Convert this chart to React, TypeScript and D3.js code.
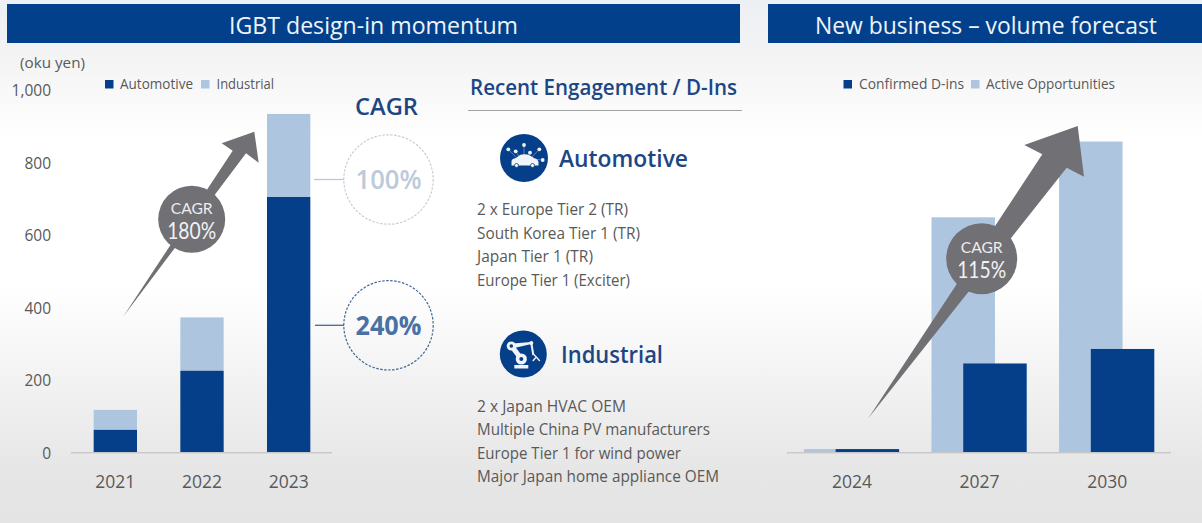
import React from "react";
import * as d3 from "d3";

const designYears = ["2021", "2022", "2023"];
const automotive = [63, 226, 705];
const industrial = [55, 147, 229];
const yTicks = [0, 200, 400, 600, 800, 1000];

const forecastYears = ["2024", "2027", "2030"];
const confirmedDins = [10, 246, 286];
const activeOpps = [10, 649, 858];

const automotiveList = ["2 x Europe Tier 2 (TR)", "South Korea Tier 1 (TR)", "Japan Tier 1 (TR)", "Europe Tier 1 (Exciter)"];
const automotiveWidths = [151, 163, 116, 153];
const industrialList = ["2 x Japan HVAC OEM", "Multiple China PV manufacturers", "Europe Tier 1 for wind power", "Major Japan home appliance OEM"];
const industrialWidths = [149, 233, 204, 242];

const DARK = "#063f89";
const LIGHT = "#aec5e0";
const GREY = "#717075";
const TEXT = "#595959";
const NAVY = "#1c4684";
const FONT = "'Open Sans', 'Noto Sans', sans-serif";

const y = d3.scaleLinear().domain([0, 1000]).range([452.7, 90]);
const xLeft = d3.scaleBand().domain(designYears).range([72, 332]).paddingInner(0.5).paddingOuter(0.25);
const xRight = d3.scaleBand().domain(forecastYears).range([787.7, 1170.5]).paddingInner(0.2535).paddingOuter(0.127);

const line = d3.line();

type TProps = { x: number; y: number; w?: number; size: number; fill?: string; weight?: number; anchor?: string; font?: string; children: React.ReactNode };
function T({ x, y, w, size, fill = TEXT, weight = 400, anchor = "start", font = FONT, children }: TProps) {
  return (
    <text x={x} y={y - 0.6} fontSize={size} fill={fill} fontWeight={weight} textAnchor={anchor} dominantBaseline="central" fontFamily={font}
      {...(w ? { textLength: w, lengthAdjust: "spacingAndGlyphs" } : {})}>
      {children}
    </text>
  );
}

function GrowthArrow({ pts, cx, cy, r, label }: { pts: [number, number][]; cx: number; cy: number; r: number; label: string }) {
  return (
    <g>
      <path d={line(pts) + "Z"} fill={GREY} />
      <circle cx={cx} cy={cy} r={r} fill={GREY} />
      <T x={cx} y={cy - 11} size={15.5} fill="#ececec" anchor="middle" font="Lato" w={42}>CAGR</T>
      <T x={cx} y={cy + 11} size={23} fill="#f2f2f2" anchor="middle" font="Lato" w={49}>{label}</T>
    </g>
  );
}

function Callout({ cy, stroke, lineColor, fill, label, weight, x1, x2 }: { cy: number; stroke: string; lineColor: string; fill: string; label: string; weight: number; x1: number; x2: number }) {
  return (
    <g>
      <line x1={x1} x2={x2} y1={cy} y2={cy} stroke={lineColor} strokeWidth={1.3} />
      <circle cx={388.5} cy={cy} r={44.7} fill="none" stroke={stroke} strokeWidth={1.2} strokeDasharray="2.5 1.5" />
      <T x={388.5} y={cy - 0.5} size={27} weight={weight} fill={fill} anchor="middle" w={66}>{label}</T>
    </g>
  );
}

function CarIcon({ cx, cy }: { cx: number; cy: number }) {
  const dots: [number, number][] = [[-15.7, -8.7], [-8.3, -6.7], [0, -13], [6, -5.3], [15.3, -8.7], [18.7, 2]];
  return (
    <g transform={`translate(${cx},${cy})`}>
      <circle r={24} fill={DARK} />
      {dots.map(([dx, dy], i) => (
        <g key={i}>
          <line x1={dx} y1={dy} x2={dx * 0.4} y2={1} stroke="#6f8fbc" strokeWidth={0.8} />
          <circle cx={dx} cy={dy} r={1.9} fill="#eef2f8" />
        </g>
      ))}
      <path d="M-12.5 7.5 L-12.5 3 Q-12 0.5 -8 0 L-4 -3 Q1 -4.5 6 -2.5 L10 0 Q14 1 14.5 4 L14.5 7.5 Z" fill="#f0f3f8" />
      <circle cx={-7.5} cy={7.5} r={2} fill="#f0f3f8" stroke={DARK} strokeWidth={0.8} />
      <circle cx={8.5} cy={7.5} r={2} fill="#f0f3f8" stroke={DARK} strokeWidth={0.8} />
    </g>
  );
}

function RobotIcon({ cx, cy }: { cx: number; cy: number }) {
  return (
    <g transform={`translate(${cx},${cy})`}>
      <circle r={23.5} fill={DARK} />
      <path d="M-11 -10.5 L8 -12 L8 -10 L-9 -6 Z" fill="#f0f3f8" />
      <path d="M-11 -7 L-2 5" stroke="#f0f3f8" strokeWidth={5} fill="none" />
      <circle cx={-12} cy={-8} r={4.6} fill="#f0f3f8" />
      <circle cx={-12} cy={-8} r={1.8} fill={DARK} />
      <circle cx={-2} cy={5} r={5.6} fill="#f0f3f8" />
      <circle cx={-2} cy={5} r={2} fill={DARK} />
      <rect x={-9} y={11} width={14} height={3.5} fill="#f0f3f8" />
      <path d="M8 -11 L10 1" stroke="#f0f3f8" strokeWidth={2} fill="none" />
      <circle cx={8} cy={-11} r={2} fill="#f0f3f8" />
      <path d="M10 0 L13 3 M13 3 L9.5 7 M13 3 L16.5 7" stroke="#f0f3f8" strokeWidth={1.3} fill="none" />
    </g>
  );
}

function Legend({ x, y: ly, items }: { x: number; y: number; items: { sq: number; tx: number; w: number; label: string; fill: string }[] }) {
  return (
    <g>
      {items.map((it) => (
        <g key={it.label}>
          <rect x={x + it.sq} y={ly - 4} width={8.5} height={8.5} fill={it.fill} />
          <T x={x + it.tx} y={ly} size={14} w={it.w}>{it.label}</T>
        </g>
      ))}
    </g>
  );
}

export default function App() {
  const base = y(0);
  const bwL = xLeft.bandwidth();
  const bwR = xRight.bandwidth();
  const sub = d3.scaleBand().domain(["active", "mid", "confirmed"]).range([0, bwR]);
  return (
    <svg width={1202} height={523} style={{ position: "absolute", left: 0, top: 0 }}>
      <defs>
        <linearGradient id="bg" x1="0" y1="0" x2="0" y2="1">
          <stop offset="0" stopColor="#eceff3" />
          <stop offset="0.1" stopColor="#f3f3f4" />
          <stop offset="0.27" stopColor="#ffffff" />
          <stop offset="0.55" stopColor="#ffffff" />
          <stop offset="0.9" stopColor="#e6e6e7" />
          <stop offset="1" stopColor="#e4e4e5" />
        </linearGradient>
      </defs>
      <rect width={1202} height={523} fill="url(#bg)" />

      <rect x={7} y={4} width={733} height={39} fill="#03408c" />
      <rect x={768} y={4} width={434} height={39} fill="#03408c" />
      <T x={373.5} y={25} size={24} fill="#eef4fa" anchor="middle" w={289}>IGBT design-in momentum</T>
      <T x={986} y={25} size={24} fill="#eef4fa" anchor="middle" w={342}>New business – volume forecast</T>

      {/* Left chart */}
      <T x={20} y={63} size={15} w={65}>(oku yen)</T>
      {yTicks.map((t) => (
        <T key={t} x={51} y={y(t) + 0.6} size={15.5} anchor="end">{d3.format(",")(t)}</T>
      ))}
      <Legend x={0} y={84} items={[
        { sq: 105, tx: 120, w: 73, label: "Automotive", fill: DARK },
        { sq: 201, tx: 216.5, w: 57.5, label: "Industrial", fill: LIGHT },
      ]} />
      {designYears.map((yr, i) => (
        <g key={yr}>
          <rect x={xLeft(yr)} y={y(automotive[i] + industrial[i])} width={bwL} height={y(automotive[i]) - y(automotive[i] + industrial[i])} fill={LIGHT} />
          <rect x={xLeft(yr)} y={y(automotive[i])} width={bwL} height={base - y(automotive[i])} fill={DARK} />
          <T x={xLeft(yr)! + bwL / 2} y={481.6} size={17.5} anchor="middle">{yr}</T>
        </g>
      ))}
      <line x1={71} x2={332} y1={base} y2={base} stroke="#c9c9cb" strokeWidth={1.5} />
      <GrowthArrow
        pts={[[123.3, 316.5], [232.7, 150.7], [221.7, 143.3], [254.3, 131.7], [258.7, 162.7], [246, 153.3]]}
        cx={191.7} cy={219.3} r={33.5} label="180%" />

      <T x={386.5} y={106} size={24} weight={600} fill={NAVY} anchor="middle" w={63}>CAGR</T>
      <Callout cy={179.5} stroke="#c6ced9" lineColor="#b9c9dd" fill="#bccada" label="100%" weight={600} x1={314} x2={344} />
      <Callout cy={325.3} stroke="#3f6796" lineColor="#46688f" fill="#4a71a3" label="240%" weight={700} x1={315} x2={344} />

      {/* Middle column */}
      <T x={470} y={88} size={21} weight={600} fill={NAVY} w={267}>Recent Engagement / D-Ins</T>
      <line x1={468} x2={742} y1={110.5} y2={110.5} stroke="#a3a3a3" strokeWidth={1} />
      <CarIcon cx={524} cy={158} />
      <T x={559} y={158.5} size={24} weight={600} fill={NAVY} w={129}>Automotive</T>
      {automotiveList.map((s, i) => (
        <T key={s} x={477} y={210 + i * 23.4} size={15.5} w={automotiveWidths[i]}>{s}</T>
      ))}
      <RobotIcon cx={523.3} cy={354} />
      <T x={561} y={354.5} size={24} weight={600} fill={NAVY} w={102}>Industrial</T>
      {industrialList.map((s, i) => (
        <T key={s} x={477} y={406.5 + i * 23.3} size={15.5} w={industrialWidths[i]}>{s}</T>
      ))}

      {/* Right chart */}
      <Legend x={0} y={84} items={[
        { sq: 843.5, tx: 859, w: 105, label: "Confirmed D-ins", fill: DARK },
        { sq: 971, tx: 986, w: 129, label: "Active Opportunities", fill: LIGHT },
      ]} />
      {forecastYears.map((yr, i) => (
        <g key={yr}>
          <rect x={xRight(yr)! + sub("active")!} y={y(activeOpps[i])} width={sub.bandwidth() * 2} height={base - y(activeOpps[i])} fill={LIGHT} />
          <rect x={xRight(yr)! + sub("mid")!} y={y(confirmedDins[i])} width={sub.bandwidth() * 2} height={base - y(confirmedDins[i])} fill={DARK} />
          <T x={xRight(yr)! + bwR / 2 + 0.5} y={481.6} size={17.5} anchor="middle">{yr}</T>
        </g>
      ))}
      <line x1={787} x2={1171} y1={base} y2={base} stroke="#c9c9cb" strokeWidth={1.5} />
      <GrowthArrow
        pts={[[868.3, 418.3], [1042.3, 154.3], [1024.3, 145], [1077.7, 126], [1084, 176.7], [1066.7, 167.7]]}
        cx={981.7} cy={258.7} r={35.5} label="115%" />
    </svg>
  );
}
